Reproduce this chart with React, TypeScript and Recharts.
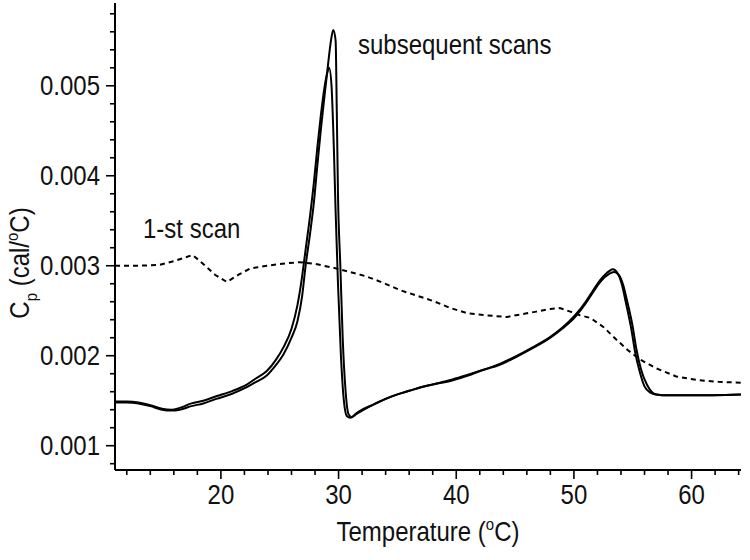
import { LineChart, Line, XAxis, YAxis } from 'recharts';

// second scan (taller first peak)
const scanA = [
  { t: 11.0, v: 0.00148 }, { t: 12.0, v: 0.00148 }, { t: 13.0, v: 0.00147 },
  { t: 14.0, v: 0.00144 }, { t: 15.0, v: 0.0014 }, { t: 15.8, v: 0.00139 },
  { t: 16.5, v: 0.0014 }, { t: 17.5, v: 0.00144 }, { t: 18.5, v: 0.00147 },
  { t: 19.6, v: 0.00152 }, { t: 21.0, v: 0.00158 }, { t: 22.2, v: 0.00165 },
  { t: 23.0, v: 0.00171 }, { t: 23.9, v: 0.00178 }, { t: 24.7, v: 0.0019 },
  { t: 25.3, v: 0.00201 }, { t: 26.0, v: 0.0022 }, { t: 26.5, v: 0.00238 },
  { t: 26.9, v: 0.00266 }, { t: 27.2, v: 0.003 }, { t: 27.6, v: 0.00338 },
  { t: 27.9, v: 0.0037 }, { t: 28.2, v: 0.00412 }, { t: 28.5, v: 0.00452 },
  { t: 28.8, v: 0.00488 }, { t: 29.1, v: 0.00523 }, { t: 29.35, v: 0.0055 },
  { t: 29.55, v: 0.00562 }, { t: 29.75, v: 0.0055 }, { t: 29.85, v: 0.0047 },
  { t: 29.95, v: 0.0038 }, { t: 30.15, v: 0.003 }, { t: 30.35, v: 0.0022 },
  { t: 30.6, v: 0.0016 }, { t: 30.85, v: 0.00135 }, { t: 31.1, v: 0.00132 },
  { t: 31.5, v: 0.00136 }, { t: 32.0, v: 0.0014 }, { t: 33.0, v: 0.00146 },
  { t: 34.0, v: 0.00152 }, { t: 35.0, v: 0.00157 }, { t: 36.0, v: 0.00161 },
  { t: 37.0, v: 0.00165 }, { t: 38.0, v: 0.00168 }, { t: 39.5, v: 0.00172 },
  { t: 41.0, v: 0.00178 }, { t: 42.0, v: 0.00183 }, { t: 43.7, v: 0.0019 },
  { t: 45.0, v: 0.00198 }, { t: 46.3, v: 0.00207 }, { t: 48.0, v: 0.0022 },
  { t: 49.0, v: 0.0023 }, { t: 50.1, v: 0.00243 }, { t: 51.0, v: 0.00258 },
  { t: 51.6, v: 0.0027 }, { t: 52.3, v: 0.00283 }, { t: 53.0, v: 0.00291 },
  { t: 53.4, v: 0.00293 }, { t: 53.8, v: 0.0029 }, { t: 54.2, v: 0.00278 },
  { t: 54.5, v: 0.00262 }, { t: 55.0, v: 0.00232 }, { t: 55.3, v: 0.00208 },
  { t: 55.7, v: 0.00185 }, { t: 56.2, v: 0.00168 }, { t: 56.6, v: 0.0016 },
  { t: 57.0, v: 0.00157 }, { t: 58.0, v: 0.00156 }, { t: 60.0, v: 0.00156 },
  { t: 64.2, v: 0.00157 },
];

// third scan (slightly earlier, lower first peak)
const scanB = [
  { t: 11.0, v: 0.00149 }, { t: 12.0, v: 0.00149 }, { t: 13.0, v: 0.00148 },
  { t: 14.0, v: 0.00145 }, { t: 15.0, v: 0.00141 }, { t: 15.8, v: 0.0014 },
  { t: 16.5, v: 0.00142 }, { t: 17.5, v: 0.00147 }, { t: 18.5, v: 0.0015 },
  { t: 19.6, v: 0.00155 }, { t: 21.0, v: 0.00161 }, { t: 22.2, v: 0.00168 },
  { t: 23.0, v: 0.00175 }, { t: 23.9, v: 0.00183 }, { t: 24.7, v: 0.00196 },
  { t: 25.3, v: 0.00209 }, { t: 26.0, v: 0.0023 }, { t: 26.5, v: 0.00256 },
  { t: 26.9, v: 0.00288 }, { t: 27.2, v: 0.00318 }, { t: 27.6, v: 0.00358 },
  { t: 27.9, v: 0.00392 }, { t: 28.2, v: 0.00432 }, { t: 28.5, v: 0.00468 },
  { t: 28.8, v: 0.00498 }, { t: 29.05, v: 0.00515 }, { t: 29.2, v: 0.0052 },
  { t: 29.4, v: 0.005 }, { t: 29.6, v: 0.0043 }, { t: 29.75, v: 0.0036 },
  { t: 29.95, v: 0.0028 }, { t: 30.2, v: 0.002 }, { t: 30.45, v: 0.0015 },
  { t: 30.7, v: 0.00133 }, { t: 31.0, v: 0.00131 }, { t: 31.5, v: 0.00135 },
  { t: 32.0, v: 0.00139 }, { t: 33.0, v: 0.00146 }, { t: 34.0, v: 0.00152 },
  { t: 35.0, v: 0.00157 }, { t: 36.0, v: 0.00161 }, { t: 37.0, v: 0.00165 },
  { t: 38.0, v: 0.00168 }, { t: 39.5, v: 0.00173 }, { t: 41.0, v: 0.00179 },
  { t: 42.0, v: 0.00183 }, { t: 43.7, v: 0.00191 }, { t: 45.0, v: 0.00199 },
  { t: 46.3, v: 0.00208 }, { t: 48.0, v: 0.00221 }, { t: 49.0, v: 0.00231 },
  { t: 50.1, v: 0.00245 }, { t: 51.0, v: 0.0026 }, { t: 51.6, v: 0.00272 },
  { t: 52.3, v: 0.00285 }, { t: 53.0, v: 0.00294 }, { t: 53.3, v: 0.00296 },
  { t: 53.7, v: 0.00292 }, { t: 54.1, v: 0.00278 }, { t: 54.4, v: 0.0026 },
  { t: 54.9, v: 0.00228 }, { t: 55.2, v: 0.00204 }, { t: 55.6, v: 0.00182 },
  { t: 56.0, v: 0.00166 }, { t: 56.5, v: 0.00159 }, { t: 57.0, v: 0.00157 },
  { t: 58.0, v: 0.00156 }, { t: 60.0, v: 0.00156 }, { t: 64.2, v: 0.00157 },
];

// first scan, dashed
const firstScan = [
  { t: 11.0, v: 0.003 }, { t: 13.0, v: 0.003 }, { t: 14.8, v: 0.00301 },
  { t: 16.0, v: 0.00305 }, { t: 17.6, v: 0.00312 }, { t: 18.5, v: 0.00302 },
  { t: 19.5, v: 0.0029 }, { t: 20.5, v: 0.00282 }, { t: 21.5, v: 0.0029 },
  { t: 22.5, v: 0.00297 }, { t: 23.9, v: 0.003 }, { t: 25.0, v: 0.00302 },
  { t: 26.7, v: 0.00304 }, { t: 28.0, v: 0.00302 }, { t: 29.5, v: 0.00298 },
  { t: 31.0, v: 0.00293 }, { t: 32.4, v: 0.00288 }, { t: 33.8, v: 0.00281 },
  { t: 35.2, v: 0.00273 }, { t: 36.6, v: 0.00267 }, { t: 38.0, v: 0.00261 },
  { t: 39.5, v: 0.00253 }, { t: 41.0, v: 0.00247 }, { t: 42.5, v: 0.00245 },
  { t: 44.3, v: 0.00243 }, { t: 45.5, v: 0.00246 }, { t: 46.8, v: 0.00249 },
  { t: 48.0, v: 0.00252 }, { t: 48.8, v: 0.00253 }, { t: 49.7, v: 0.00249 },
  { t: 50.5, v: 0.00245 }, { t: 51.4, v: 0.00242 }, { t: 52.5, v: 0.00232 },
  { t: 53.6, v: 0.00218 }, { t: 54.6, v: 0.00206 }, { t: 55.6, v: 0.00196 },
  { t: 57.0, v: 0.00186 }, { t: 58.7, v: 0.00177 }, { t: 60.5, v: 0.00173 },
  { t: 62.3, v: 0.00171 }, { t: 64.2, v: 0.0017 },
];

const xTicks = [12, 14, 16, 18, 20, 22, 24, 26, 28, 30, 32, 34, 36, 38, 40, 42, 44, 46, 48, 50, 52, 54, 56, 58, 60, 62, 64];
// y ticks in units of 0.0001
const yTicks = [8, 10, 12, 14, 16, 18, 20, 22, 24, 26, 28, 30, 32, 34, 36, 38, 40, 42, 44, 46, 48, 50, 52, 54, 56, 58];

const FONT = '"Liberation Sans", Arial, sans-serif';
const FS = 24;
const STRETCH = 1.12;

// text slightly stretched vertically, like the source figure
const SText = ({ x, y, anchor = 'start', rotate = 0, children }: any) => (
  <text
    transform={`translate(${x},${y})${rotate ? ` rotate(${rotate})` : ''} scale(1,${STRETCH})`}
    textAnchor={anchor}
    fontSize={FS}
    fontFamily={FONT}
    fill="#111"
  >
    {children}
  </text>
);

const XTick = (props: any) => {
  const { x, y, payload } = props;
  const major = payload.value % 10 === 0;
  return (
    <g>
      <line x1={x} x2={x} y1={y} y2={y + (major ? 9 : 5)} stroke="#000" strokeWidth={1.6} />
      {major && <SText x={x} y={y + 34} anchor="middle">{payload.value}</SText>}
    </g>
  );
};

const YTick = (props: any) => {
  const { x, y, payload } = props;
  const n = Math.round(payload.value * 10000);
  const major = n % 10 === 0;
  return (
    <g>
      <line x1={x} x2={x - (major ? 9 : 5)} y1={y} y2={y} stroke="#000" strokeWidth={1.6} />
      {major && <SText x={x - 15} y={y + 9} anchor="end">{(n / 10000).toFixed(3)}</SText>}
    </g>
  );
};

export default function App() {
  return (
    <div style={{ position: 'absolute', left: 0, top: 0, width: 750, height: 560, background: '#fff', fontFamily: FONT }}>
      <LineChart width={750} height={560} margin={{ top: 3, right: 9, left: 114, bottom: 89 }}>
        <XAxis
          type="number"
          dataKey="t"
          domain={[11, 64.2]}
          allowDataOverflow
          ticks={xTicks}
          interval={0}
          height={1}
          tickSize={0}
          tickMargin={0}
          tickLine={false}
          tick={<XTick />}
          axisLine={{ stroke: '#000', strokeWidth: 2 }}
        />
        <YAxis
          type="number"
          dataKey="v"
          domain={[0.00073, 0.00592]}
          allowDataOverflow
          ticks={yTicks.map((n) => n / 10000)}
          interval={0}
          width={1}
          tickSize={0}
          tickMargin={0}
          tickLine={false}
          tick={<YTick />}
          axisLine={{ stroke: '#000', strokeWidth: 2 }}
        />
        <Line data={firstScan} dataKey="v" type="linear" stroke="#000" strokeWidth={2} strokeDasharray="5 4" dot={false} isAnimationActive={false} />
        <Line data={scanA} dataKey="v" type="monotone" stroke="#000" strokeWidth={2} dot={false} isAnimationActive={false} />
        <Line data={scanB} dataKey="v" type="monotone" stroke="#000" strokeWidth={2} dot={false} isAnimationActive={false} />
        <SText x={358} y={54}>subsequent scans</SText>
        <SText x={143} y={238}>1-st scan</SText>
        <SText x={428} y={541} anchor="middle">
          Temperature (<tspan dy={-10} fontSize={15}>o</tspan>
          <tspan dy={10}>C)</tspan>
        </SText>
        <SText x={29} y={263} anchor="middle" rotate={-90}>
          C<tspan dy={7} fontSize={15}>p</tspan>
          <tspan dy={-7}> (cal/</tspan>
          <tspan dy={-10} fontSize={15}>o</tspan>
          <tspan dy={10}>C)</tspan>
        </SText>
      </LineChart>
    </div>
  );
}
